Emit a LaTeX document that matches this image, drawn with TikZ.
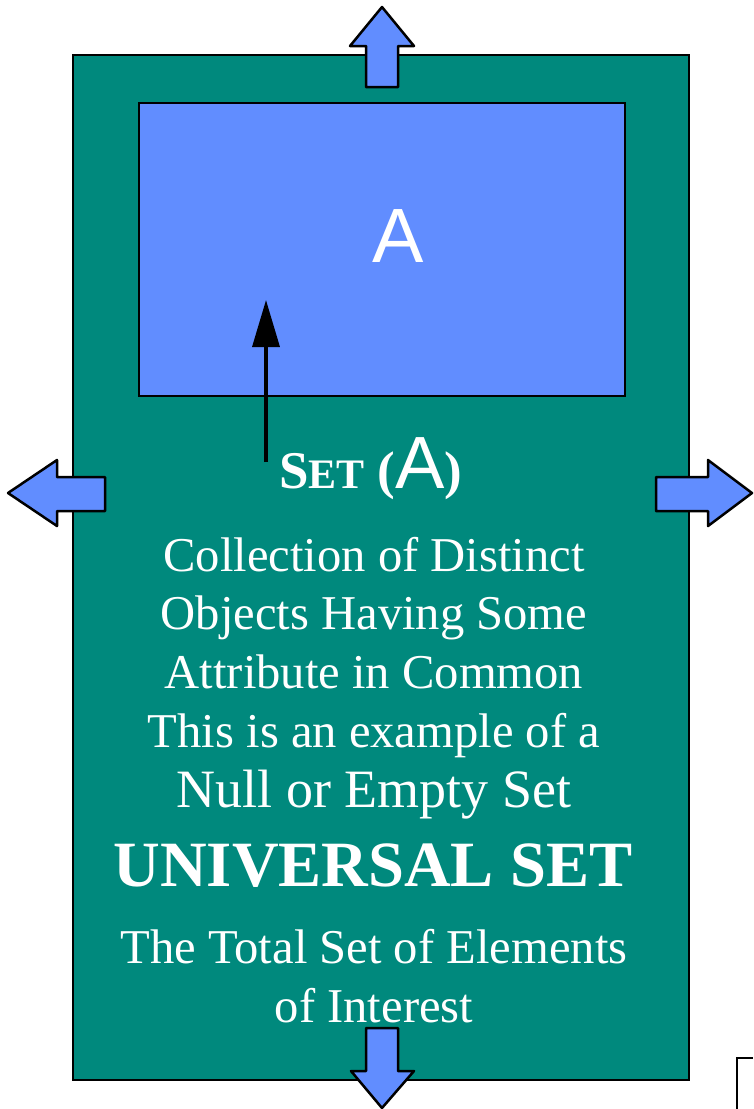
\documentclass[tikz,border=0pt]{standalone}
\usepackage{fontspec}
\setmainfont{Liberation Serif}
\setsansfont{Liberation Sans}
\usetikzlibrary{arrows.meta}
\definecolor{univteal}{RGB}{0,137,125}
\definecolor{setblue}{RGB}{97,141,255}
\tikzset{
  universe/.style={fill=univteal,draw=black,line width=2.5pt},
  setbox/.style={fill=setblue,draw=black,line width=2.5pt},
  blockarrow/.style={fill=setblue,draw=black,line width=2.5pt,line join=round},
  bodytext/.style={text=white,anchor=base,inner sep=0pt,
    font=\fontsize{48.6}{58}\selectfont},
  headtext/.style={text=white,anchor=base,inner sep=0pt,
    font=\bfseries\fontsize{64.6}{76}\selectfont},
  pointer/.style={-{Triangle[length=47pt,width=27pt]},line width=3.5pt,draw=black},
}
\begin{document}
\begin{tikzpicture}[x=1pt,y=-1pt]
  \useasboundingbox (0,0) rectangle (753,1109);

  % universal set
  \draw[universe] (73,55) rectangle (689,1080);
  % set A
  \draw[setbox] (139,103) rectangle (625,396);
  \node[anchor=base,inner sep=0pt,text=white,
    font=\sffamily\fontsize{77}{80}\selectfont] (setA) at (398,262) {A};

  % block arrows on the four sides
  \draw[blockarrow] (366,87) -- (366,46) -- (350,46) -- (382,7)
    -- (414,46) -- (398,46) -- (398,87) -- cycle;
  \draw[blockarrow] (105,477) -- (57,477) -- (57,460) -- (8,493)
    -- (57,526) -- (57,511) -- (105,511) -- cycle;
  \draw[blockarrow] (656,477) -- (708,477) -- (708,460) -- (752,493)
    -- (708,526) -- (708,511) -- (656,511) -- cycle;
  \draw[blockarrow] (366,1028) -- (366,1071) -- (351,1071) -- (382,1108)
    -- (414,1071) -- (398,1071) -- (398,1028) -- cycle;

  % label with pointer into A
  \node[anchor=base west,inner sep=0pt,text=white] (setlabel) at (279,488)
    {\bfseries\fontsize{53}{60}\selectfont S\fontsize{42}{50}\selectfont ET\fontsize{53}{60}\selectfont{} (%
     {\mdseries\sffamily\fontsize{74}{80}\selectfont A})};
  \coordinate (pointfoot) at (266,462);
  \coordinate (pointtip) at (266,300);
  \draw[pointer] (pointfoot) -- (pointtip);

  % descriptive text
  \node[bodytext] (l1) at (374,571) {Collection of Distinct};
  \node[bodytext] (l2) at (374,629) {Objects Having Some};
  \node[bodytext] (l3) at (374,688) {Attribute in Common};
  \node[bodytext] (l4) at (374,747) {This is an example of a};
  \node[bodytext,font=\fontsize{54}{62}\selectfont] (l5) at (374,807) {Null or Empty Set};
  \node[headtext] (head) at (373,886) {UNIVERSAL SET};
  \node[bodytext] (l6) at (374,963) {The Total Set of Elements};
  \node[bodytext] (l7) at (374,1022) {of Interest};

  % corner of a neighbouring frame
  \draw[line width=2pt] (737,1109) -- (737,1058) -- (753,1058);
\end{tikzpicture}
\end{document}
